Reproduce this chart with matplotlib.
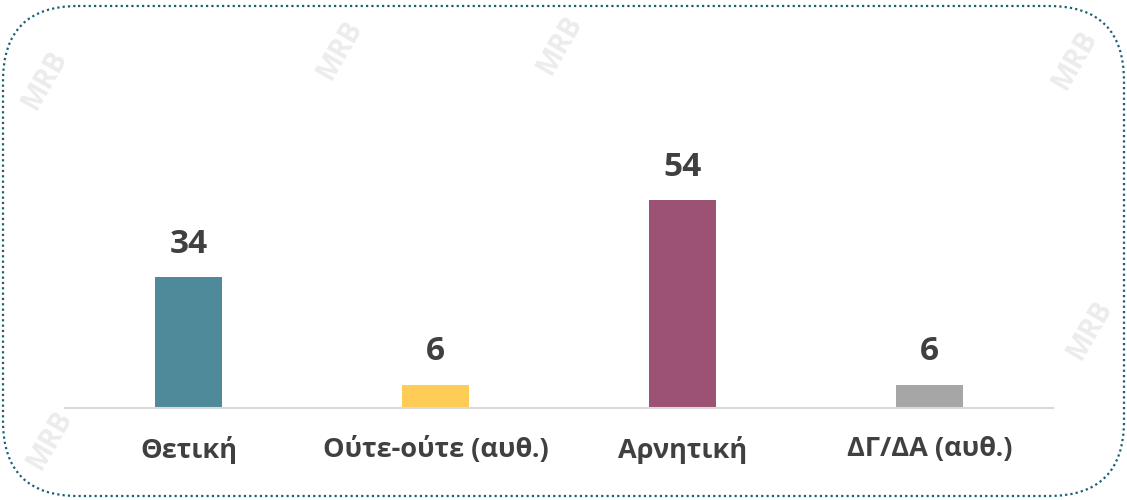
import numpy as np
import matplotlib
matplotlib.use("Agg")
import matplotlib.pyplot as plt
from matplotlib.patches import FancyBboxPatch

plt.rcParams['font.family'] = ['Open Sans', 'DejaVu Sans']

categories = ["Θετική", "Ούτε-ούτε (αυθ.)", "Αρνητική", "ΔΓ/ΔΑ (αυθ.)"]
values = [34, 6, 54, 6]
colors = ["#4e8a9a", "#ffcc55", "#9c5273", "#a6a6a6"]
text_color = "#404040"

fig = plt.figure(figsize=(11.27, 5.0), dpi=100)

# background layer in pixel coordinates: frame and faint watermark
bg = fig.add_axes([0, 0, 1, 1])
bg.set_xlim(0, 1127)
bg.set_ylim(500, 0)
bg.axis("off")
frame = FancyBboxPatch((3, 6), 1121, 490, boxstyle="round,pad=0,rounding_size=75",
                       fill=False, edgecolor="#1b5f78", linewidth=1.6,
                       linestyle=(0, (1, 1.4)))
bg.add_patch(frame)
for (wx, wy) in [(45, 80), (340, 50), (1075, 60), (1090, 330), (50, 440), (560, 45)]:
    bg.text(wx, wy, "MRB", fontsize=20, color="#ececec", rotation=60,
            ha="center", va="center", fontweight="bold")

ax = fig.add_axes([65 / 1127, 92 / 500, 988 / 1127, 308 / 500])
x = np.arange(len(categories))
bars = ax.bar(x, values, width=0.275, color=colors)
ax.set_xlim(-0.5, len(categories) - 0.5)
ax.set_ylim(0, 80)
for b, v in zip(bars, values):
    ax.text(b.get_x() + b.get_width() / 2, v + 4.3, str(v), ha="center", va="bottom",
            fontsize=24, fontweight="bold", color=text_color)

ax.set_xticks(x)
ax.set_xticklabels(categories, fontsize=19.5, fontweight="bold", color=text_color)
ax.tick_params(axis="x", length=0, pad=20)
ax.set_yticks([])
for s in ["top", "right", "left"]:
    ax.spines[s].set_visible(False)
ax.spines["bottom"].set_color("#d9d9d9")
ax.spines["bottom"].set_linewidth(1.5)
ax.patch.set_alpha(0)

fig.savefig("out.png", dpi=100)
